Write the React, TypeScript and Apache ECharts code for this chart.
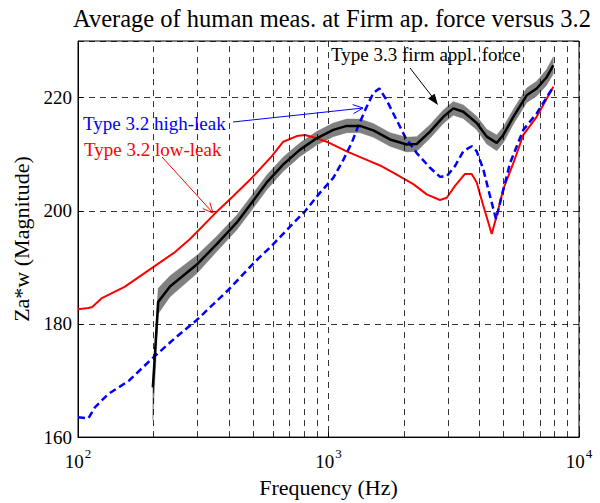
import React, { useEffect, useRef } from "react";
import * as echarts from "echarts";

const FONT = "'Liberation Serif', 'Times New Roman', serif";

// Type 3.2 low-leak (red)
const lowLeakFreq = [100, 110, 114, 124, 154, 199, 244, 280, 352, 417, 494, 593, 660, 747, 806, 897, 984, 1182, 1421, 1606, 1872, 2181, 2466, 2787, 2965, 3199, 3506, 3729, 3905, 4150, 4483, 4694, 4986, 5467, 5993, 6778, 7897];
const lowLeakVal = [182.6, 182.8, 183.0, 184.5, 186.6, 190.0, 192.7, 195.0, 199.5, 202.6, 205.8, 209.6, 212.2, 213.2, 213.4, 212.8, 212.2, 210.5, 209.0, 208.0, 206.4, 204.7, 202.9, 201.9, 202.3, 204.4, 206.5, 206.5, 205.0, 200.9, 195.9, 199.1, 203.8, 208.4, 213.4, 216.6, 221.9];

// Type 3.2 high-leak (blue dashed)
const highLeakFreq = [100, 110, 117, 132, 159, 199, 244, 298, 398, 509, 593, 702, 806, 925, 1045, 1146, 1238, 1315, 1421, 1510, 1596, 1708, 1872, 2020, 2250, 2542, 2787, 2965, 3199, 3452, 3729, 3905, 4150, 4413, 4664, 4914, 5304, 5993, 6778, 7897];
const highLeakVal = [163.5, 163.3, 165.3, 167.6, 169.9, 174.0, 177.5, 180.7, 186.0, 191.0, 193.8, 197.2, 199.9, 203.2, 205.8, 209.0, 212.0, 215.0, 218.4, 220.8, 221.6, 219.5, 216.0, 213.1, 210.2, 207.6, 206.0, 206.1, 207.9, 210.5, 211.4, 210.5, 207.3, 202.6, 198.5, 202.6, 208.4, 214.3, 217.2, 221.9];

// Type 3.3 firm appl. force (black mean with grey spread)
const firmFreq = [199, 209, 233, 298, 358, 430, 486, 567, 660, 770, 897, 1045, 1182, 1336, 1510, 1760, 2052, 2250, 2542, 2873, 3149, 3452, 3905, 4281, 4694, 4986, 5467, 6183, 6778, 7430, 7897];
const firmMean = [168.8, 183.9, 186.6, 190.5, 194.1, 197.9, 201.0, 205.0, 208.2, 210.8, 212.8, 214.3, 215.0, 215.0, 214.2, 212.6, 211.7, 211.8, 214.0, 216.6, 218.1, 217.5, 215.5, 213.1, 212.0, 213.4, 216.6, 220.4, 221.6, 223.6, 225.7];
const firmLow = [163.0, 181.8, 184.8, 188.9, 192.8, 196.6, 199.7, 203.7, 207.0, 209.6, 211.6, 213.1, 213.8, 213.8, 213.0, 211.4, 210.4, 210.5, 212.8, 215.4, 216.9, 216.3, 214.3, 211.8, 210.6, 212.0, 215.3, 219.1, 220.3, 222.2, 224.2];
const firmHigh = [169.5, 186.3, 188.5, 192.1, 195.5, 199.2, 202.3, 206.3, 209.5, 212.0, 214.0, 215.5, 216.2, 216.2, 215.4, 213.8, 213.0, 213.1, 215.2, 217.8, 219.3, 218.7, 216.7, 214.4, 213.4, 214.8, 217.9, 221.7, 222.9, 225.0, 227.2];

// minor (2..9 x decade) vertical grid lines
const minorGrid = [200, 300, 400, 500, 600, 700, 800, 900, 2000, 3000, 4000, 5000, 6000, 7000, 8000, 9000];

const zip = (xs: number[], ys: number[]) => xs.map((x, i) => [x, ys[i]]);

export default function App() {
  const ref = useRef<HTMLDivElement>(null);
  useEffect(() => {
    if (!ref.current) return;
    const chart = echarts.init(ref.current, undefined, { renderer: "svg" });
    const dash = { type: [6, 5] as any, color: "#000", width: 0.8 };
    const option: any = {
      animation: false,
      backgroundColor: "#fff",
      title: {
        text: "Average of human meas. at Firm ap. force versus 3.2",
        left: 327,
        top: 1,
        textAlign: "center",
        textStyle: { fontFamily: FONT, fontSize: 24.5, fontWeight: "normal", color: "#000" },
      },
      grid: { left: 78, right: 21, top: 41, bottom: 63, show: true, borderColor: "#000", borderWidth: 1, backgroundColor: "transparent" },
      xAxis: {
        type: "log",
        logBase: 10,
        min: 100,
        max: 10000,
        name: "Frequency (Hz)",
        nameLocation: "middle",
        nameGap: 38,
        nameTextStyle: { fontFamily: FONT, fontSize: 22, color: "#000" },
        axisLine: { show: true, onZero: false, lineStyle: { color: "#000" } },
        axisTick: { show: true, inside: true, length: 5, lineStyle: { color: "#000" } },
        splitLine: { show: true, lineStyle: dash },
        axisLabel: {
          margin: 10,
          formatter: (v: number) => `{b|10}{s|${Math.round(Math.log10(v))}}`,
          rich: {
            b: { fontFamily: FONT, fontSize: 19, color: "#000", lineHeight: 24, verticalAlign: "bottom" },
            s: { fontFamily: FONT, fontSize: 13, color: "#000", lineHeight: 24, verticalAlign: "top", padding: [0, 0, 0, 1] },
          },
        },
      },
      yAxis: {
        type: "value",
        min: 160,
        max: 230,
        interval: 20,
        name: "Za*w (Magnitude)",
        nameLocation: "middle",
        nameGap: 44,
        nameTextStyle: { fontFamily: FONT, fontSize: 22, color: "#000" },
        axisLine: { show: true, lineStyle: { color: "#000" } },
        axisTick: { show: true, inside: true, length: 5, lineStyle: { color: "#000" } },
        splitLine: { show: true, lineStyle: dash },
        axisLabel: { showMaxLabel: false, margin: 6, fontFamily: FONT, fontSize: 19, color: "#000" },
      },
      series: [
        {
          type: "line",
          data: [],
          z: 1,
          silent: true,
          markLine: {
            silent: true,
            symbol: ["none", "none"],
            label: { show: false },
            lineStyle: dash,
            emphasis: { disabled: true },
            data: minorGrid.map((f) => ({ xAxis: f })),
          },
        },
        {
          name: "spread",
          type: "custom",
          z: 2,
          silent: true,
          data: [[firmFreq[0], firmLow[0]]],
          renderItem: (params: any, api: any) => {
            const upper = firmFreq.map((f, i) => api.coord([f, firmHigh[i]]));
            const lower = firmFreq.map((f, i) => api.coord([f, firmLow[i]])).reverse();
            return {
              type: "polygon",
              shape: { points: upper.concat(lower) },
              style: { fill: "#808080", stroke: "#808080", lineWidth: 0.5 },
            };
          },
        },
        {
          name: "Type 3.2 low-leak",
          type: "line",
          data: zip(lowLeakFreq, lowLeakVal),
          symbol: "none",
          lineStyle: { color: "#ff0000", width: 2 },
          z: 3,
        },
        {
          name: "Type 3.2 high-leak",
          type: "line",
          data: zip(highLeakFreq, highLeakVal),
          symbol: "none",
          lineStyle: { color: "#0000ff", width: 2.5, type: [7, 4] },
          z: 4,
        },
        {
          name: "Type 3.3 firm appl. force",
          type: "line",
          data: zip(firmFreq, firmMean),
          symbol: "none",
          lineStyle: { color: "#000", width: 2.5 },
          z: 5,
        },
      ],
      graphic: [
        { type: "text", left: 331, top: 45, z: 10, style: { text: "Type 3.3 firm appl. force", fontFamily: FONT, fontSize: 19, fill: "#000" } },
        { type: "text", left: 83, top: 114, z: 10, style: { text: "Type 3.2 high-leak", fontFamily: FONT, fontSize: 19, fill: "#0000ff" } },
        { type: "text", left: 84, top: 140, z: 10, style: { text: "Type 3.2 low-leak", fontFamily: FONT, fontSize: 19, fill: "#ff0000" } },
        // black arrow
        { type: "line", z: 10, shape: { x1: 410, y1: 68, x2: 434, y2: 99 }, style: { stroke: "#000", lineWidth: 1 } },
        { type: "polygon", z: 10, shape: { points: [[438, 105], [428, 98.6], [434.6, 93.8]] }, style: { fill: "#000" } },
        // blue arrow
        { type: "line", z: 10, shape: { x1: 233, y1: 122, x2: 363, y2: 108 }, style: { stroke: "#0000ff", lineWidth: 1 } },
        { type: "polyline", z: 10, shape: { points: [[352.6, 104.6], [363, 108], [353.6, 113.6]] }, style: { stroke: "#0000ff", lineWidth: 1, fill: "none" } },
        // red arrow
        { type: "line", z: 10, shape: { x1: 162, y1: 157, x2: 213, y2: 213 }, style: { stroke: "#ff0000", lineWidth: 1 } },
        { type: "polyline", z: 10, shape: { points: [[202.8, 208.6], [213, 213], [209.8, 202.4]] }, style: { stroke: "#ff0000", lineWidth: 1, fill: "none" } },
      ],
    };
    chart.setOption(option);
    return () => chart.dispose();
  }, []);
  return <div ref={ref} style={{ width: 600, height: 503, position: "absolute", left: 0, top: 0 }} />;
}
